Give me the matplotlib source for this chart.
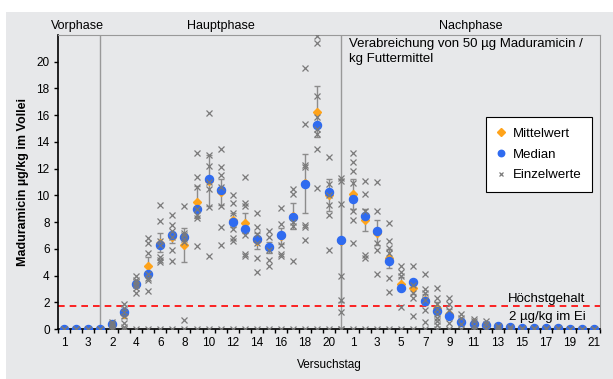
import numpy as np
import matplotlib.pyplot as plt
from matplotlib.patches import Rectangle

plt.rcParams['font.family'] = ['Liberation Sans', 'DejaVu Sans']

# Versuchstage: Vorphase 1-3, Hauptphase 1-21, Nachphase 1-21
tag_labels = ['1', '2', '3'] + [str(d) for d in range(1, 22)] + [str(d) for d in range(1, 22)]

mittelwert = [0, 0, 0, 0, 0.3, 1.15, 3.3, 4.7, 6.45, 6.85, 6.3, 9.5, 11.1, 10.25, 8.15, 7.9,
              6.6, 6.1, 6.95, 8.45, 10.9, 16.25, 10.0, 6.6,
              10.1, 8.15, 7.2, 5.3, 3.4, 3.1, 2.2, 1.6, 1.15, 0.6, 0.45, 0.3, 0.2, 0.13,
              0.1, 0.07, 0.05, 0.04, 0.03, 0.02, 0.02]
median = [0, 0, 0, 0, 0.35, 1.25, 3.4, 4.15, 6.3, 7.0, 6.85, 9.0, 11.25, 10.4, 8.0, 7.5,
          6.7, 6.15, 7.05, 8.4, 10.85, 15.3, 10.25, 6.65,
          9.7, 8.45, 7.3, 5.1, 3.1, 3.55, 2.1, 1.35, 0.95, 0.55, 0.4, 0.27, 0.2, 0.13,
          0.1, 0.07, 0.05, 0.04, 0.03, 0.02, 0.02]
stdabw = [0, 0, 0, 0, 0.15, 0.35, 0.15, 0.7, 0.7, 0.4, 1.25, 1.2, 1.9, 1.0, 0.5, 0.75,
          0.6, 0.4, 0.6, 1.0, 2.2, 1.9, 1.2, 4.6,
          1.15, 0.85, 0.95, 0.7, 0.5, 0.5, 0.4, 0.4, 0.35, 0.25, 0.2, 0.15, 0.05, 0,
          0, 0, 0, 0, 0, 0, 0]
einzelwerte = [
    [0, 0], [0, 0], [0, 0], [0, 0],
    [0.5, 0.35, 0.25, 0.1, 0],
    [1.85, 1.6, 1.3, 1.0, 0.45, 0.15, 0],
    [3.95, 3.7, 3.5, 3.3, 3.1, 2.7, 0],
    [6.8, 6.45, 5.7, 4.1, 3.85, 3.7, 2.85, 0],
    [9.3, 8.1, 6.6, 6.3, 5.4, 5.2, 5.0, 0],
    [8.5, 7.8, 7.3, 6.9, 5.9, 5.1, 0],
    [9.2, 7.2, 7.0, 6.7, 6.5, 0.65, 0],
    [13.2, 11.35, 10.6, 9.0, 8.5, 8.3, 6.2, 0],
    [16.15, 13.0, 12.2, 11.0, 10.5, 9.1, 5.5, 0],
    [13.5, 12.1, 11.5, 10.6, 9.2, 7.6, 6.3, 0],
    [10.0, 9.45, 8.65, 7.45, 6.8, 6.6, 0],
    [11.35, 9.4, 9.2, 7.0, 5.6, 5.5, 0],
    [8.65, 7.65, 7.1, 6.45, 5.3, 4.3, 0],
    [7.35, 6.85, 5.9, 5.2, 4.7, 0],
    [9.05, 7.85, 6.3, 5.6, 5.5, 0],
    [10.45, 10.1, 8.0, 7.7, 5.1, 0],
    [19.5, 15.35, 12.3, 12.1, 7.8, 7.6, 6.65, 0],
    [21.9, 21.4, 17.45, 15.85, 15.0, 14.6, 13.5, 10.55, 0],
    [12.9, 10.85, 10.0, 9.3, 8.5, 5.9, 0],
    [11.3, 11.1, 9.35, 3.95, 2.2, 1.3, 0, 0],
    [13.15, 12.5, 11.85, 10.9, 8.85, 8.15, 6.4, 0],
    [11.05, 10.1, 8.85, 5.55, 5.3, 0],
    [11.0, 8.8, 6.4, 5.9, 4.15, 0],
    [7.9, 6.6, 6.05, 5.65, 3.85, 2.8, 0],
    [4.75, 4.25, 3.95, 1.65, 0],
    [4.75, 3.3, 2.7, 2.35, 1.0, 0],
    [4.15, 3.0, 2.7, 2.2, 1.45, 0.5, 0],
    [3.1, 2.3, 1.9, 1.5, 1.1, 0.85, 0.6, 0.3, 0],
    [2.3, 1.9, 1.4, 0.45, 0],
    [1.1, 0.8, 0.35, 0],
    [0.75, 0.6, 0.2, 0],
    [0.6, 0.4, 0.1, 0],
    [0.25, 0.15, 0],
    [0.15, 0],
    [0.1, 0], [0.07, 0], [0.05, 0], [0.04, 0], [0.03, 0], [0.02, 0], [0.02, 0],
]
hoechstgehalt = 1.7
phasen = ['Vorphase', 'Hauptphase', 'Nachphase']
phasen_x = [2.15, 14.0, 34.75]
phasen_grenzen = [4, 24]

x = np.arange(1, len(tag_labels) + 1)
bg = '#e7e8ea'

fig = plt.figure(figsize=(6.13, 3.79), dpi=100)
fig.patch.set_facecolor('white')
fig.patches.append(Rectangle((6 / 613, 0), 1, 1 - 12 / 379, transform=fig.transFigure,
                             facecolor=bg, edgecolor='none', zorder=-5))
ax = fig.add_axes([58 / 613, 50 / 379, 542 / 613, 294 / 379])
ax.set_facecolor(bg)

# Trennlinien der Phasen
for g in phasen_grenzen:
    ax.axvline(g, color='#999999', lw=1.0, zorder=1)

ax.axhline(hoechstgehalt, color='#ff0000', ls=(0, (4, 3)), lw=1.2, zorder=2)

ax.errorbar(x, mittelwert, yerr=stdabw, fmt='none', ecolor='#8c8c8c', elinewidth=1,
            capsize=2.5, capthick=1, zorder=3)
ax.plot(x, mittelwert, 'D', color='#ffa31a', ms=4.5, mec='#ffa31a', zorder=4, label='Mittelwert')
ax.plot(x, median, 'o', color='#2f6bf0', ms=5.8, mec='#2f6bf0', zorder=5, label='Median')
ex = np.concatenate([[xi] * len(v) for xi, v in zip(x, einzelwerte)])
ey = np.concatenate(einzelwerte)
ax.plot(ex, ey, 'x', color='#7a7a7a', ms=3.8, mew=0.9, zorder=6, label='Einzelwerte')

ax.set_xlim(0.5, len(x) + 0.5)
ax.set_ylim(0, 22)
ax.set_yticks(np.arange(0, 21, 2))
ax.set_xticks(x[::2])
ax.set_xticklabels(tag_labels[::2])
ax.set_xticks(np.arange(0.5, len(x) + 1), minor=True)
ax.tick_params(axis='x', which='major', length=0, pad=6, labelsize=8.5)
ax.tick_params(axis='x', which='minor', length=3, width=1, direction='out')
ax.tick_params(axis='y', length=3, width=1, labelsize=8.5, pad=3)

for s in ['top', 'right']:
    ax.spines[s].set_color('#999999')
ax.spines['left'].set_linewidth(1.2)
ax.spines['bottom'].set_linewidth(1.2)

ax.set_ylabel('Maduramicin µg/kg im Vollei', fontsize=9, fontweight='bold', labelpad=5)
ax.set_xlabel('Versuchstag', fontsize=8.5, labelpad=7)

for name, px in zip(phasen, phasen_x):
    ax.text(px, 1.01, name, transform=ax.get_xaxis_transform(), ha='center', va='bottom',
            fontsize=9)

ax.text(24.7, 21.75, 'Verabreichung von 50 µg Maduramicin /\nkg Futtermittel', ha='left', va='top',
        fontsize=9.5, linespacing=1.25)
ax.text(44.3, 2.25, 'Höchstgehalt', ha='right', va='center', fontsize=9.5)
ax.text(44.3, 0.9, '2 µg/kg im Ei', ha='right', va='center', fontsize=9.5)

leg = ax.legend(loc='upper right', bbox_to_anchor=(0.985, 0.721), borderaxespad=0,
                fancybox=False, edgecolor='black', fontsize=9.5, handlelength=0.7,
                handletextpad=0.5, borderpad=0.8, labelspacing=0.65, markerscale=0.8)
leg.get_frame().set_linewidth(0.8)
leg.get_frame().set_facecolor('white')
leg.get_frame().set_alpha(1)

fig.savefig('out.png', dpi=100)
